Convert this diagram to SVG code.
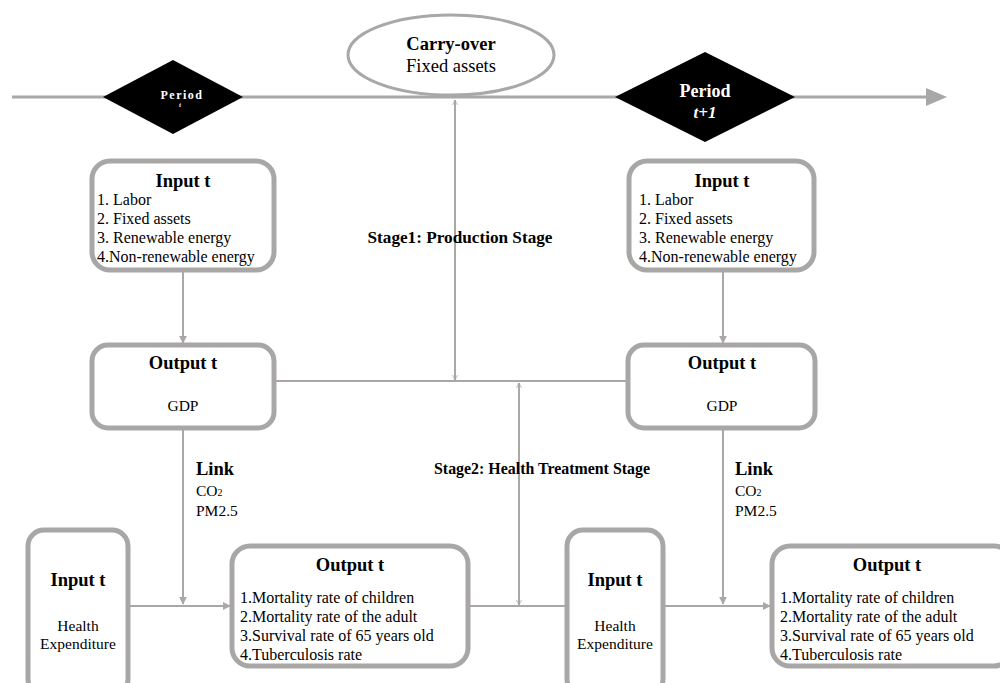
<svg xmlns="http://www.w3.org/2000/svg" width="1000" height="683" viewBox="0 0 1000 683">
<defs>
<style>
.box{fill:#fff;stroke:#a9a6a6;stroke-width:5}
.ln{fill:none;stroke:#aaa7a7;stroke-width:2}
.t{font-family:"Liberation Serif","Times New Roman",serif;fill:#000}
.h{font-size:18.5px;font-weight:bold}
.i{font-size:16px}
.s{font-size:15.5px}
.w{font-family:"Liberation Serif","Times New Roman",serif;fill:#fff;font-weight:bold}
</style>
<marker id="fa" viewBox="0 0 10 10" refX="9" refY="5" markerWidth="4" markerHeight="4" orient="auto"><path d="M0,0 L10,5 L0,10 Z" fill="#aaa7a7"/></marker>
<marker id="oa" viewBox="0 0 12 12" refX="11" refY="6" markerWidth="6" markerHeight="6" orient="auto-start-reverse" markerUnits="userSpaceOnUse"><path d="M1,1 L11,6 L1,11" fill="none" stroke="#aaa7a7" stroke-width="1.5"/></marker>
</defs>
<rect width="1000" height="683" fill="#fff"/>
<g id="connectors">
<line x1="12" y1="97" x2="930" y2="97" stroke="#aaa7a7" stroke-width="3"/>
<path d="M926,88 L947,97 L926,106 Z" fill="#aaa7a7"/>
<line class="ln" x1="455" y1="100" x2="455" y2="380" marker-start="url(#oa)" marker-end="url(#oa)"/>
<line class="ln" x1="275" y1="381" x2="628" y2="381"/>
<line class="ln" x1="519" y1="383" x2="519" y2="605" marker-start="url(#oa)" marker-end="url(#oa)"/>
<line class="ln" x1="183" y1="271" x2="183" y2="343" marker-end="url(#fa)"/>
<line class="ln" x1="723" y1="271" x2="723" y2="343" marker-end="url(#fa)"/>
<line class="ln" x1="183" y1="430" x2="183" y2="604" marker-end="url(#fa)"/>
<line class="ln" x1="723" y1="430" x2="723" y2="604" marker-end="url(#fa)"/>
<line class="ln" x1="130" y1="606" x2="230" y2="606" marker-end="url(#fa)"/>
<line class="ln" x1="469" y1="606" x2="566" y2="606"/>
<line class="ln" x1="664" y1="606" x2="770" y2="606" marker-end="url(#fa)"/>
</g>
<g id="period-t">
<path d="M103,97 L173,60 L243,97 L173,134 Z" fill="#000"/>
<text class="w" x="182" y="99" font-size="12" text-anchor="middle" letter-spacing="1.5">Period</text>
<text class="w" x="180" y="107" font-size="7" font-style="italic" text-anchor="middle">t</text>
</g>
<g id="period-t1">
<path d="M615,97 L705,52 L795,97 L705,142 Z" fill="#000"/>
<text class="w" x="705" y="97" font-size="18" text-anchor="middle">Period</text>
<text class="w" x="705" y="118" font-size="17" font-style="italic" text-anchor="middle">t+1</text>
</g>
<g id="carry-over">
<ellipse cx="451" cy="55" rx="103" ry="40" fill="#fff" stroke="#aaa7a7" stroke-width="3"/>
<text class="t h" x="451" y="50" text-anchor="middle">Carry-over</text>
<text class="t" x="451" y="72" font-size="18.5" text-anchor="middle">Fixed assets</text>
</g>
<g id="stage1"><text class="t" x="460" y="243" font-size="16.5" font-weight="bold" text-anchor="middle" textLength="185" lengthAdjust="spacingAndGlyphs">Stage1: Production Stage</text></g>
<g id="stage2"><text class="t" x="542" y="474" font-size="16" font-weight="bold" text-anchor="middle" textLength="216" lengthAdjust="spacingAndGlyphs">Stage2: Health Treatment Stage</text></g>
<g id="input-t-left">
<rect class="box" x="92" y="161" width="182" height="109" rx="18"/>
<text class="t h" x="183" y="187" text-anchor="middle">Input t</text>
<text class="t i" x="97" y="205">1. Labor</text>
<text class="t i" x="97" y="224">2. Fixed assets</text>
<text class="t i" x="97" y="243">3. Renewable energy</text>
<text class="t i" x="97" y="262">4.Non-renewable energy</text>
</g>
<g id="input-t-right">
<rect class="box" x="629" y="161" width="185" height="109" rx="18"/>
<text class="t h" x="722" y="187" text-anchor="middle">Input t</text>
<text class="t i" x="639" y="205">1. Labor</text>
<text class="t i" x="639" y="224">2. Fixed assets</text>
<text class="t i" x="639" y="243">3. Renewable energy</text>
<text class="t i" x="639" y="262">4.Non-renewable energy</text>
</g>
<g id="output-gdp-left">
<rect class="box" x="92" y="345" width="182" height="83" rx="16"/>
<text class="t h" x="183" y="369" text-anchor="middle">Output t</text>
<text class="t s" x="183" y="411" text-anchor="middle">GDP</text>
</g>
<g id="output-gdp-right">
<rect class="box" x="628" y="345" width="187" height="83" rx="16"/>
<text class="t h" x="722" y="369" text-anchor="middle">Output t</text>
<text class="t s" x="722" y="411" text-anchor="middle">GDP</text>
</g>
<g id="link-left">
<text class="t h" x="196" y="475">Link</text>
<text class="t s" x="196" y="496">CO<tspan font-size="10">2</tspan></text>
<text class="t s" x="196" y="516">PM2.5</text>
</g>
<g id="link-right">
<text class="t h" x="735" y="475">Link</text>
<text class="t s" x="735" y="496">CO<tspan font-size="10">2</tspan></text>
<text class="t s" x="735" y="516">PM2.5</text>
</g>
<g id="health-input-left">
<rect class="box" x="28" y="530" width="100" height="165" rx="16"/>
<text class="t h" x="78" y="586" text-anchor="middle">Input t</text>
<text class="t s" x="78" y="631" text-anchor="middle">Health</text>
<text class="t s" x="78" y="649" text-anchor="middle">Expenditure</text>
</g>
<g id="health-output-left">
<rect class="box" x="232" y="546" width="236" height="120" rx="18"/>
<text class="t h" x="350" y="571" text-anchor="middle">Output t</text>
<text class="t i" x="240" y="603">1.Mortality rate of children</text>
<text class="t i" x="240" y="622">2.Mortality rate of the adult</text>
<text class="t i" x="240" y="641">3.Survival rate of 65 years old</text>
<text class="t i" x="240" y="660">4.Tuberculosis rate</text>
</g>
<g id="health-input-right">
<rect class="box" x="567" y="530" width="96" height="165" rx="16"/>
<text class="t h" x="615" y="586" text-anchor="middle">Input t</text>
<text class="t s" x="615" y="631" text-anchor="middle">Health</text>
<text class="t s" x="615" y="649" text-anchor="middle">Expenditure</text>
</g>
<g id="health-output-right">
<rect class="box" x="772" y="546" width="240" height="120" rx="18"/>
<text class="t h" x="887" y="571" text-anchor="middle">Output t</text>
<text class="t i" x="780" y="603">1.Mortality rate of children</text>
<text class="t i" x="780" y="622">2.Mortality rate of the adult</text>
<text class="t i" x="780" y="641">3.Survival rate of 65 years old</text>
<text class="t i" x="780" y="660">4.Tuberculosis rate</text>
</g>
</svg>
